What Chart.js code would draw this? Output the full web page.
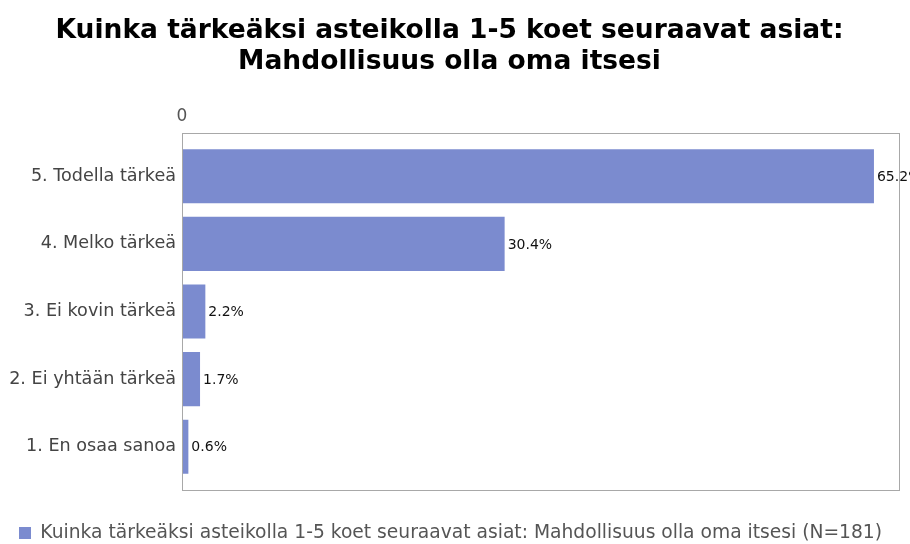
<!DOCTYPE html>
<html>
<head>
<meta charset="utf-8">
<script src="https://cdn.jsdelivr.net/npm/chart.js@4"></script>
<style>
  body { margin: 0; background: #fff; }
  canvas { display: block; }
</style>
</head>
<body>
<canvas id="chart" width="910" height="544"></canvas>
<script>
// Data
const categories = ["5. Todella tärkeä", "4. Melko tärkeä", "3. Ei kovin tärkeä", "2. Ei yhtään tärkeä", "1. En osaa sanoa"];
const percentages = [65.2, 30.4, 2.2, 1.7, 0.6];
const xTicks = [0];
const titleLines = ["Kuinka tärkeäksi asteikolla 1-5 koet seuraavat asiat:", "Mahdollisuus olla oma itsesi"];
const seriesLabel = "Kuinka tärkeäksi asteikolla 1-5 koet seuraavat asiat: Mahdollisuus olla oma itsesi (N=181)";

const barColor = "#7b8bcf";
const frameColor = "#a8a8a8";
const framePad = 9.5; // gap between the outer bands and the frame

// draws the box around the plot area
const frame = {
  id: "frame",
  afterDraw(chart) {
    const { ctx, chartArea: a } = chart;
    const top = Math.round(a.top - framePad);
    const bottom = Math.round(a.bottom + framePad);
    ctx.save();
    ctx.strokeStyle = frameColor;
    ctx.lineWidth = 1;
    ctx.strokeRect(Math.round(a.left) + 0.5, top + 0.5, Math.round(a.right - a.left), bottom - top);
    ctx.restore();
  }
};

// value labels to the right of each bar
const valueLabels = {
  id: "valueLabels",
  afterDatasetsDraw(chart) {
    const { ctx } = chart;
    const meta = chart.getDatasetMeta(0);
    ctx.save();
    ctx.font = "14px 'DejaVu Sans'";
    ctx.fillStyle = "#111";
    ctx.textBaseline = "middle";
    ctx.textAlign = "left";
    meta.data.forEach((bar, i) => {
      ctx.fillText(percentages[i] + "%", bar.x + 3, bar.y + 1);
    });
    ctx.restore();
  }
};

new Chart(document.getElementById("chart"), {
  type: "bar",
  data: {
    labels: categories,
    datasets: [{
      label: seriesLabel,
      data: percentages,
      backgroundColor: barColor,
      borderWidth: 0,
      categoryPercentage: 1,
      barPercentage: 0.8
    }]
  },
  options: {
    indexAxis: "y",
    responsive: false,
    animation: false,
    layout: { padding: { top: 0, right: 11, bottom: -8.35, left: 0 } },
    plugins: {
      title: {
        display: true,
        text: titleLines,
        color: "#000",
        font: { family: "'DejaVu Sans'", size: 26.5, weight: "bold", lineHeight: 1.17 },
        padding: { top: 15.5, bottom: 10 }
      },
      legend: {
        display: true,
        position: "bottom",
        align: "start",
        title: { display: true, text: "", font: { size: 10, lineHeight: 2.415 }, padding: 0 },
        labels: {
          color: "#555",
          font: { family: "'DejaVu Sans'", size: 18.7 },
          boxWidth: 12,
          boxHeight: 12,
          padding: 19
        }
      },
      tooltip: { enabled: false }
    },
    scales: {
      x: {
        position: "top",
        min: 0,
        max: 67.56,
        grid: { display: false, drawTicks: false },
        border: { display: false },
        afterBuildTicks(scale) {
          scale.ticks = xTicks.map(v => ({ value: v }));
        },
        afterFit(scale) { scale.height = 55; },
        ticks: {
          color: "#555",
          font: { family: "'DejaVu Sans'", size: 17 },
          padding: 15.5,
          maxRotation: 0
        }
      },
      y: {
        grid: { display: false, drawTicks: false },
        border: { display: false },
        afterFit(scale) { scale.width = 182; },
        ticks: {
          color: "#444",
          font: { family: "'DejaVu Sans'", size: 17.6 },
          padding: 6
        }
      }
    }
  },
  plugins: [frame, valueLabels]
});
</script>
</body>
</html>
